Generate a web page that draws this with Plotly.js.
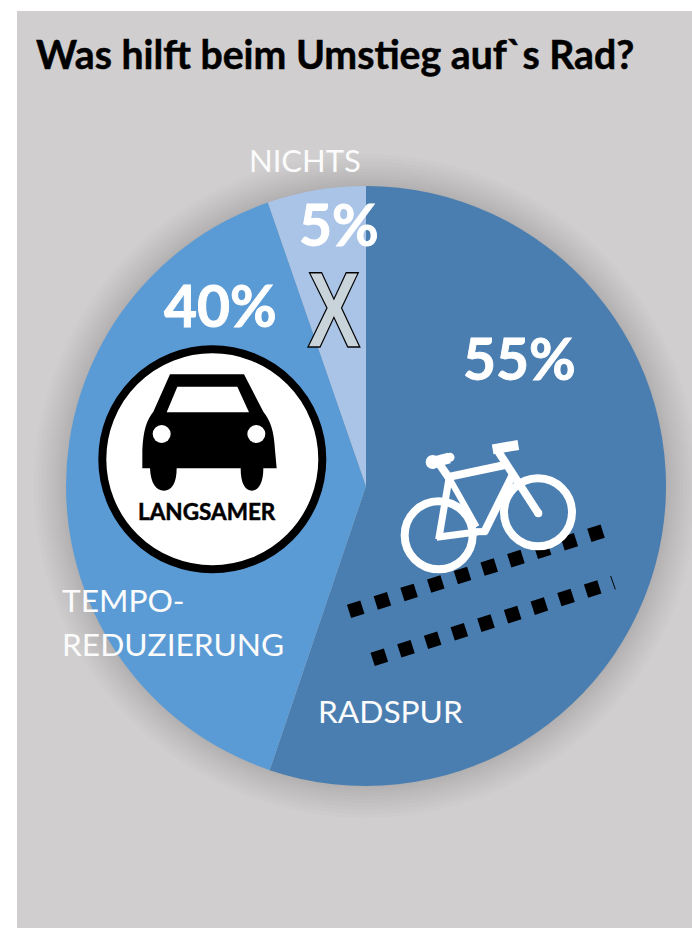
<!DOCTYPE html>
<html><head><meta charset="utf-8">
<script src="https://cdn.plot.ly/plotly-3.0.1.min.js"></script>
<style>html,body{margin:0;padding:0;background:#fff}#c{width:692px;height:928px}</style>
</head><body><div id="c"></div>
<script>
const categories = ['RADSPUR','TEMPO-REDUZIERUNG','NICHTS'];
const values = [55.2,39.5,5.3];
const sliceColors = ['#4a7eb0','#5b9bd5','#a9c4e6'];
const valueLabels = ['55%','40%','5%'];
const W=692,H=928;
const X=x=>x/W, Y=y=>1-y/H;
const shapes=[];
function circle(cx,cy,r,fill,line,lw,layer,op){shapes.push({type:'circle',xref:'paper',yref:'paper',x0:X(cx-r),x1:X(cx+r),y0:Y(cy+r),y1:Y(cy-r),fillcolor:fill,line:{color:line||'rgba(0,0,0,0)',width:lw||0},layer:layer||'above',opacity:op===undefined?1:op});}
function seg(x0,y0,x1,y1,color,w){shapes.push({type:'line',xref:'paper',yref:'paper',x0:X(x0),y0:Y(y0),x1:X(x1),y1:Y(y1),line:{color:color,width:w},layer:'above'});}
function poly(pts,fill,ox,oy,s){const d=pts.map((p,i)=>{if(p.length===6)return 'C'+[0,2,4].map(k=>X(ox+p[k]/s)+','+Y(oy+p[k+1]/s)).join(' ');return (i?'L':'M')+X(ox+p[0]/s)+','+Y(oy+p[1]/s);}).join(' ')+' Z';shapes.push({type:'path',xref:'paper',yref:'paper',path:d,fillcolor:fill,line:{width:0,color:'rgba(0,0,0,0)'},layer:'above'});}
// panel
shapes.push({type:'rect',xref:'paper',yref:'paper',x0:X(17),x1:1,y0:0,y1:Y(11),fillcolor:'#d0cece',line:{width:0},layer:'below'});
// soft halo
for(let i=10;i>=1;i--){circle(366,486,300+32*Math.pow(i/10,1.2),'#000000',null,0,'below',0.013);}
// sign
circle(212.3,459.3,110,'#ffffff','#000000',8);
const zc=[90,130,3];
poly([[240,733],[462,733],[520,845],[540,870,552,900,555,960],[560,1015],[520,1015],[520,1060,505,1082,486,1082],[465,1082,452,1060,452,1015],[260,1015],[260,1060,245,1082,222,1082],[198,1082,182,1060,180,1015],[157,1015],[157,960],[160,900,170,870,190,845]],'#000000',...zc);
poly([[262,770],[442,770],[477,847],[230,847]],'#ffffff',...zc);
circle(90+215/3,130+912/3,9,'#ffffff');
circle(90+499/3,130+912/3,9,'#ffffff');
// bike lane: rows of tilted squares
function squares(x0,y0,x1,y1,n){const a=Math.atan2(y1-y0,x1-x0),c=Math.cos(a)*7,s=Math.sin(a)*7;
 for(let i=0;i<n;i++){const x=x0+(x1-x0)*i/(n-1),y=y0+(y1-y0)*i/(n-1);
  poly([[x-c+s,y-s-c],[x+c+s,y+s-c],[x+c-s,y+s+c],[x-c-s,y-s+c]],'#000000',0,0,1);}}
squares(355.7,609.3,596,533.3,10);
squares(379.3,657.3,592.7,589,9);
seg(610.7,576,615.3,589.3,'#000000',1);
// bike
const z=(x,y)=>[330+x/3,430+y/3];
function bs(a,b,c,d,w){const p=z(a,b),q=z(c,d);seg(p[0],p[1],q[0],q[1],'#ffffff',w);}
circle(...z(326,316),34,'rgba(0,0,0,0)','#ffffff',8);
circle(...z(624,247),34,'rgba(0,0,0,0)','#ffffff',8);
bs(326,328,358,140,7);bs(320,322,445,305,7);bs(358,145,440,290,6);
bs(440,305,470,305,7);bs(462,308,548,135,8);bs(360,140,525,105,8);
bs(505,65,625,250,8);bs(488,58,565,45,10);bs(330,105,358,145,8);
bs(308,97,358,84,11);circle(...z(308,96),7,'#ffffff');circle(...z(360,82),4.5,'#ffffff');circle(...z(625,250),4,'#ffffff');

const F='Lato, "Open Sans", sans-serif';
const LT='#fbfbfb';
const ann=(t,x,y,size,opt)=>Object.assign({text:t,xref:'paper',yref:'paper',x:X(x),y:Y(y),xanchor:'center',yanchor:'middle',showarrow:false,font:{family:F,size:size,color:'#ffffff'}},opt||{});
const annotations=[
 ann('<b>Was hilft beim Umstieg auf`s Rad?</b>',34,53,39.2,{xanchor:'left',font:{family:F,size:39.2,color:'#000000'}}),
 ann(categories[2],305,160,31,{font:{family:F,size:31,color:LT}}),
 ann('TEMPO-',60,600,31.7,{xanchor:'left',font:{family:F,size:31.7,color:LT}}),
 ann('REDUZIERUNG',60,644,31.7,{xanchor:'left',font:{family:F,size:31.7,color:LT}}),
 ann(categories[0],390.5,711,31.7,{font:{family:F,size:31.7,color:LT}}),
 ann('<b>'+valueLabels[0]+'</b>',519.5,358,57),
 ann('<b>'+valueLabels[1]+'</b>',220.5,305,57),
 ann('<b>'+valueLabels[2]+'</b>',338.5,224,57),
 ann('<b>LANGSAMER</b>',207.3,511,22.5,{font:{family:F,size:22.5,color:'#000000'}}),
 ann('<b>X</b>',333.5,309,108,{font:{family:'"Liberation Sans",sans-serif',size:108,color:'#c9d3da'}})
];
Plotly.newPlot('c',[{type:'pie',labels:categories,values:values,sort:false,direction:'clockwise',rotation:0,textinfo:'none',hoverinfo:'label+percent',marker:{colors:sliceColors,line:{width:0}},domain:{x:[X(66),X(666)],y:[Y(786),Y(186)]},showlegend:false}],
{width:W,height:H,margin:{l:0,r:0,t:0,b:0},paper_bgcolor:'#ffffff',shapes:shapes,annotations:annotations,showlegend:false},{displayModeBar:false,staticPlot:true}).then(gd=>{
 const ts=[...gd.querySelectorAll('.annotation-text')];
 const x=ts[ts.length-1];
 x.style.stroke='#000';x.style.strokeWidth='1.5px';
 x.style.transformBox='fill-box';x.style.transformOrigin='center';x.style.transform='scaleX(0.74)';
 ts.slice(5,8).forEach(t=>{t.style.stroke='#fff';t.style.strokeWidth='0.9px';});
 [ts[0],ts[8]].forEach(t=>{t.style.stroke='#000';t.style.strokeWidth='0.5px';});
});
</script></body></html>
